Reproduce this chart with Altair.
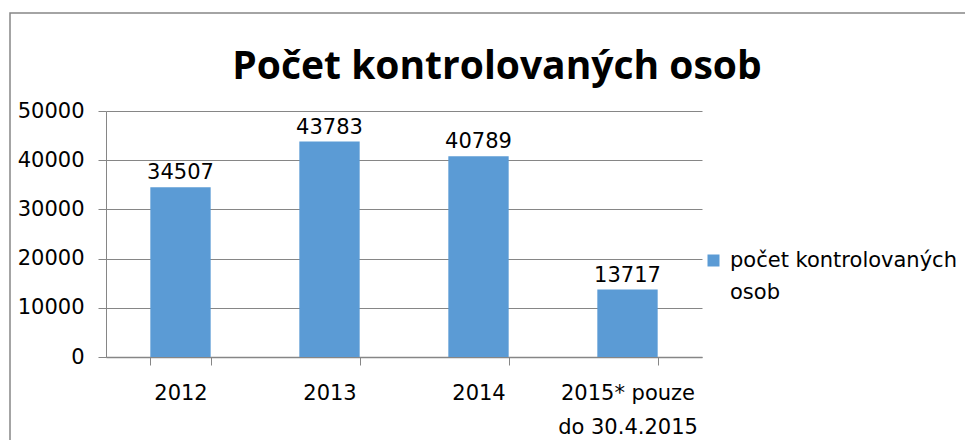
import altair as alt
import pandas as pd

categories = ["2012", "2013", "2014", "2015* pouze|do 30.4.2015"]
values = [34507, 43783, 40789, 13717]
series_name = "počet kontrolovaných osob"
title_text = "Počet kontrolovaných osob"
y_ticks = [0, 10000, 20000, 30000, 40000, 50000]

df = pd.DataFrame({"rok": categories, "pocet": values, "serie": [series_name] * len(values)})

FONT = "DejaVu Sans"
FS = 21
GRID = "#868686"
BAR = "#5B9BD5"

x_enc = alt.X(
    "rok:N",
    sort=categories,
    scale=alt.Scale(paddingInner=0.595, paddingOuter=0.2975),
    axis=alt.Axis(
        title=None,
        labelAngle=0,
        labelExpr="split(datum.label, '|')",
        labelFont=FONT,
        labelFontSize=FS,
        labelColor="black",
        labelPadding=17,
        labelLineHeight=34,
        tickBand="extent",
        tickSize=8,
        tickColor=GRID,
        domainColor=GRID,
        domainWidth=1.5,
    ),
)

bars = alt.Chart(df).mark_bar(color=BAR).encode(
    x=x_enc,
    y=alt.Y(
        "pocet:Q",
        scale=alt.Scale(domain=[0, 50000]),
        axis=alt.Axis(
            title=None,
            values=y_ticks,
            format="d",
            labelFont=FONT,
            labelFontSize=FS,
            labelColor="black",
            labelPadding=14,
            tickSize=8,
            tickColor=GRID,
            domainColor=GRID,
            gridColor=GRID,
            gridOpacity=1,
        ),
    ),
    color=alt.Color(
        "serie:N",
        scale=alt.Scale(range=[BAR]),
        legend=alt.Legend(
            title=None,
            orient="none",
            legendX=597,
            legendY=139,
            symbolType="square",
            symbolSize=144,
            symbolOpacity=1,
            symbolStrokeWidth=0,
            labelFont=FONT,
            labelFontSize=FS,
            labelColor="black",
            labelLimit=400,
            labelOffset=6,
            labelExpr="[slice(datum.label, 0, 20), slice(datum.label, 21)]",
        ),
    ),
)

labels = alt.Chart(df).mark_text(
    baseline="bottom", dy=-4, font=FONT, fontSize=FS, color="black"
).encode(x=alt.X("rok:N", sort=categories), y="pocet:Q", text="pocet:Q")

frame = alt.Chart(pd.DataFrame({"f": [0]})).mark_rect(
    fill=None, stroke=GRID, strokeWidth=1.5
).encode(x=alt.value(-96), x2=alt.value(1000), y=alt.value(-98), y2=alt.value(600))

chart = alt.layer(frame, bars, labels).properties(
    width=596,
    height=246,
    autosize=alt.AutoSizeParams(type="none"),
    padding={"left": 98, "top": 103, "right": 263, "bottom": 83},
    title=alt.TitleParams(
        title_text,
        anchor="middle",
        frame="group",
        dx=93,
        offset=-75,
        font="Open Sans",
        fontSize=39,
        fontWeight="bold",
        color="black",
    ),
).configure(
    background="white",
    style={"guide-label": {"lineHeight": 32}},
).configure_view(stroke=None)

chart.save("out.html", embed_options={"renderer": "svg", "actions": False})
